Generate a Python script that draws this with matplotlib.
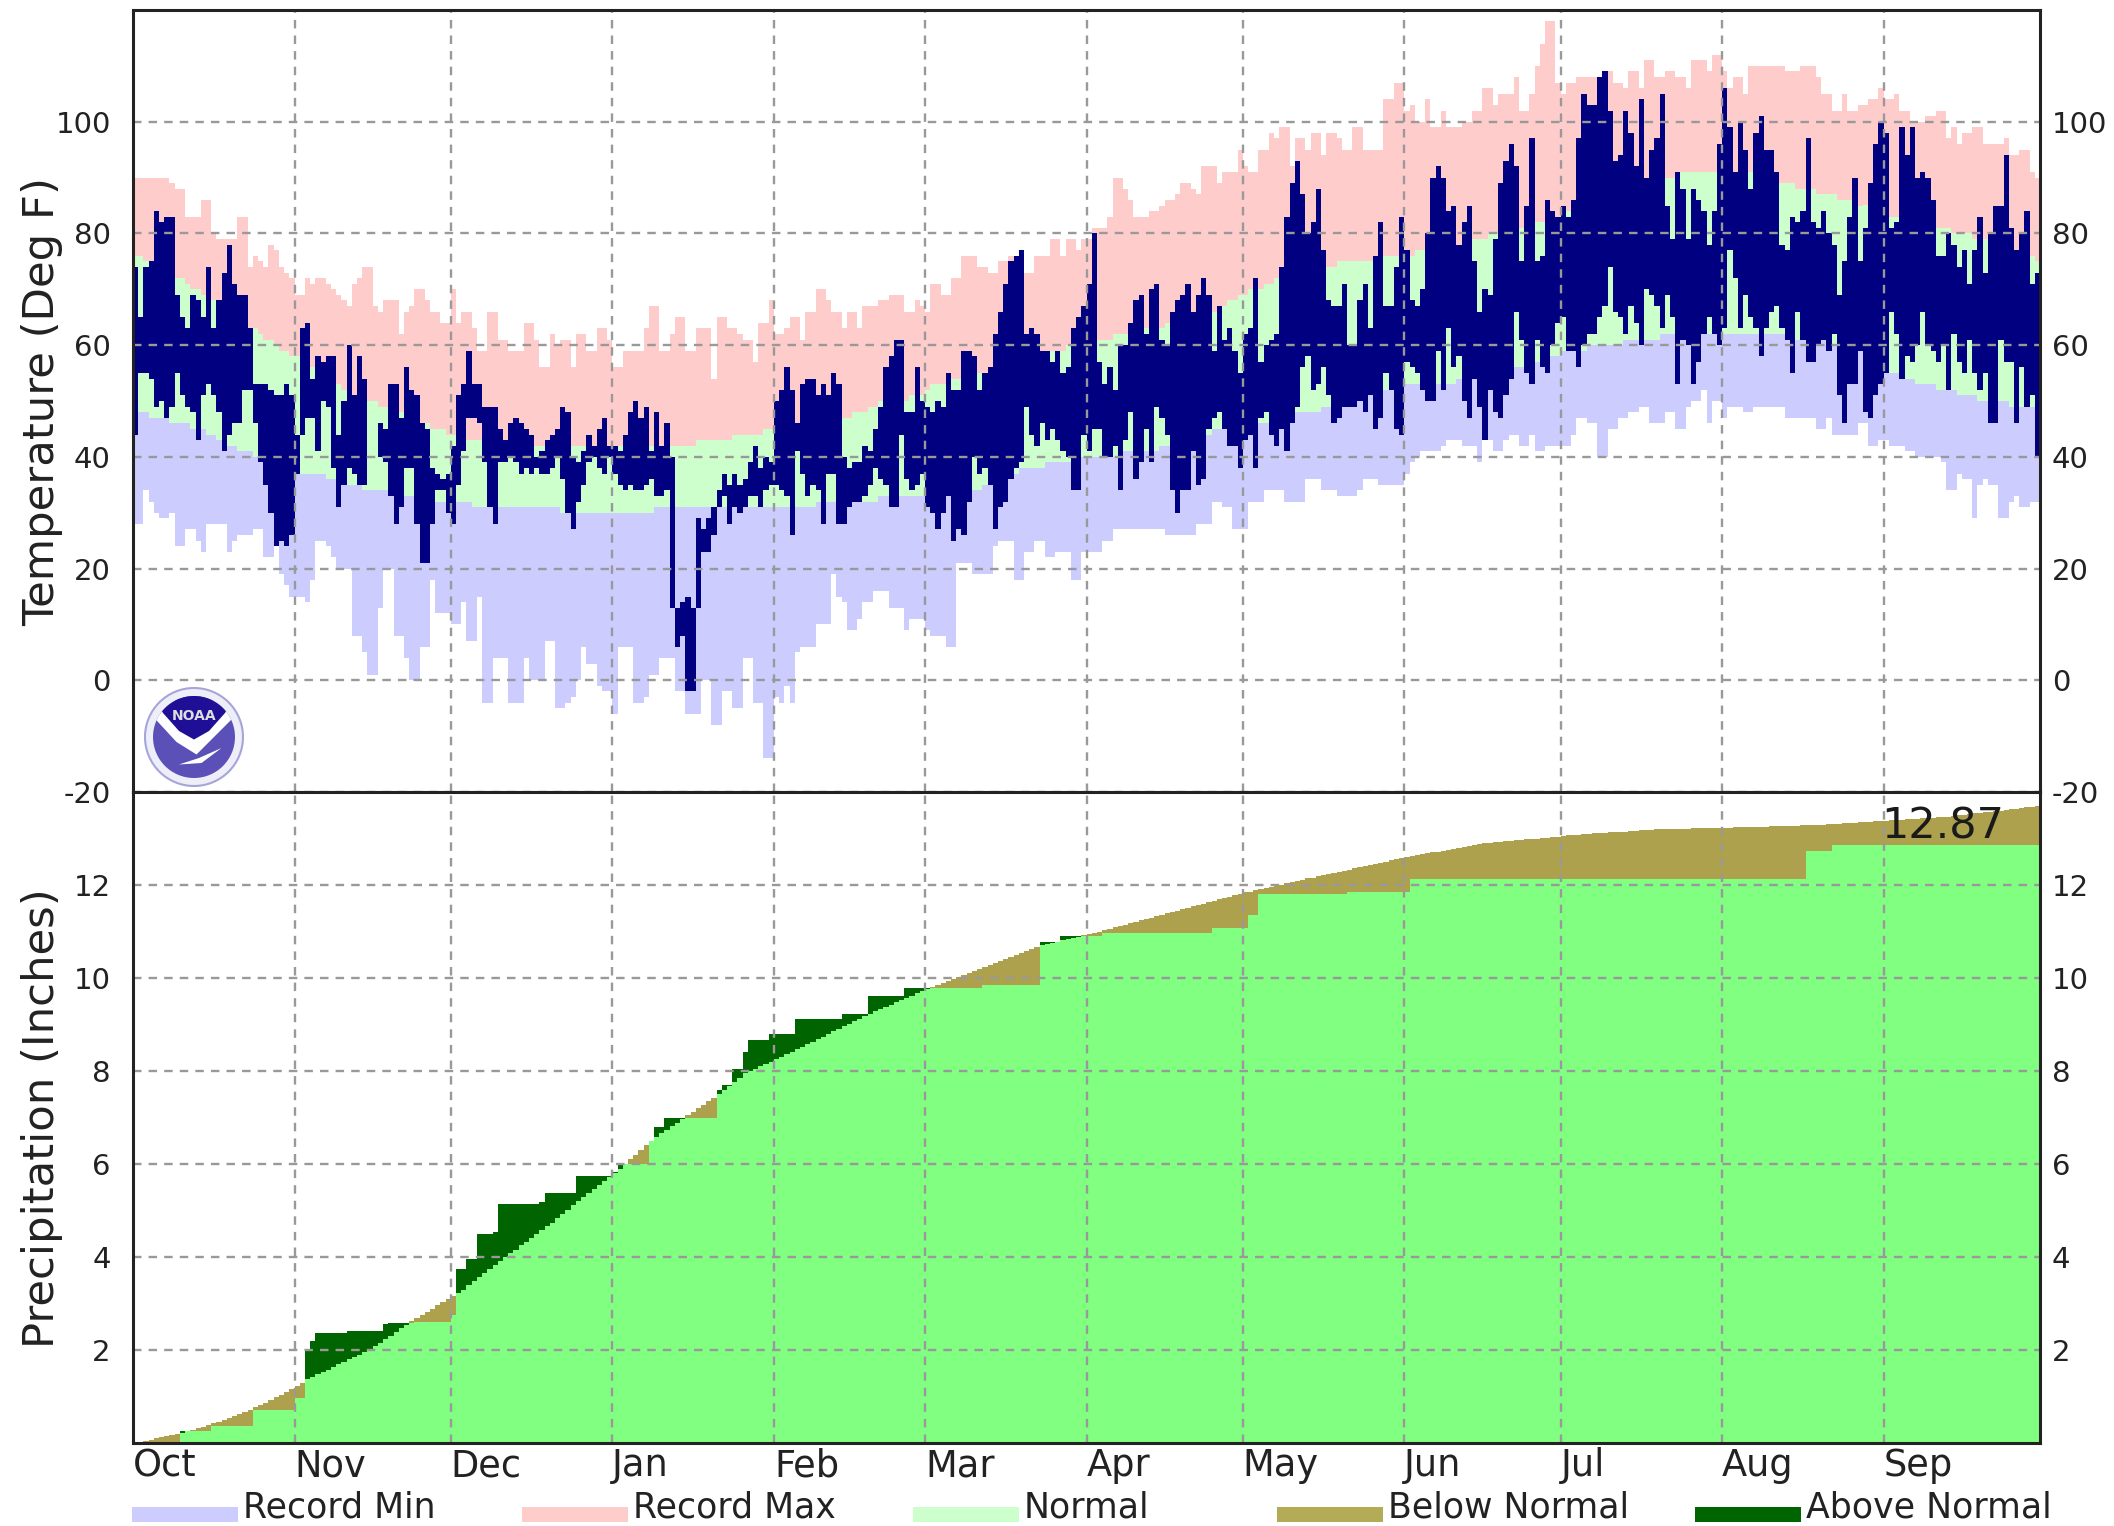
import numpy as np
import matplotlib
matplotlib.use("Agg")
import matplotlib.pyplot as plt
from matplotlib.patches import Rectangle, Circle, Polygon, PathPatch
from matplotlib.path import Path
from matplotlib.transforms import blended_transform_factory

nan = float('nan')
MONTHS = ['Oct','Nov','Dec','Jan','Feb','Mar','Apr','May','Jun','Jul','Aug','Sep']
MONTH_DAYS = [31,30,31,31,29,31,30,31,30,31,31,30]

obs_hi = [
 74,65,74,75,84,82,83,83,69,65,63,69,68,65,74,63,68,73,78,71,69,69,63,53,53,53,52,51,51,53,51,
 44,63,64,54,58,57,58,58,44,50,60,51,58,54,nan,nan,46,45,53,53,47,56,52,51,46,45,38,37,36,37,
 42,51,53,59,53,53,49,49,49,45,43,46,47,46,45,44,40,41,43,44,45,49,48,40,39,41,44,42,45,47,42,
 42,41,44,48,50,47,49,41,48,42,46,40,13,14,15,13,29,27,29,31,34,37,35,37,35,36,39,42,38,40,39,
 50,52,56,52,46,53,54,54,51,53,51,55,53,40,38,39,39,42,41,45,49,56,58,61,61,48,48,56,50,
 49,48,50,49,55,52,52,59,59,58,52,55,56,62,66,71,75,76,77,62,63,62,59,59,57,59,55,56,63,65,67,
 71,80,57,53,56,52,60,60,64,68,69,62,70,71,61,60,66,68,69,71,66,69,72,69,59,67,61,63,59,55,
 62,63,72,57,60,61,62,74,83,89,93,87,80,82,88,77,68,67,67,71,60,60,68,71,63,76,82,67,67,74,83,
 77,68,67,70,80,90,92,90,84,85,78,82,85,75,66,70,69,79,89,93,96,92,75,85,97,75,76,86,84,83,
 85,83,86,97,105,103,103,108,109,102,93,94,102,98,92,104,90,95,97,105,85,79,91,88,79,88,86,84,78,84,96,
 106,99,91,100,95,88,98,101,95,95,91,78,77,83,82,84,97,82,81,84,80,78,69,75,83,90,75,81,89,96,100,
 98,81,82,99,94,99,90,91,90,86,76,76,80,78,74,77,71,77,83,73,80,85,85,94,81,77,80,84,71,73]

obs_lo = [
 44,55,55,54,49,50,47,49,55,51,49,48,43,51,53,51,48,41,44,46,46,52,52,46,39,35,30,24,25,24,26,
 37,44,47,47,41,50,49,38,31,35,38,37,35,35,nan,nan,40,39,33,28,31,38,38,28,21,21,28,34,34,30,
 28,35,41,47,47,46,39,31,28,39,39,40,39,37,38,37,38,37,37,38,40,36,30,27,32,35,39,40,38,37,40,
 37,35,34,35,34,34,35,36,33,33,34,13,6,8,-2,-2,13,23,23,26,31,33,28,31,30,31,33,33,31,34,35,
 35,34,33,26,41,37,33,35,34,28,37,37,28,28,31,32,32,33,35,38,36,35,31,31,44,36,34,35,37,
 31,30,27,30,33,25,27,26,32,40,37,38,35,27,31,32,36,38,39,49,44,42,46,43,45,43,41,40,34,34,44,
 41,45,45,40,40,42,34,43,48,36,39,45,39,49,47,44,34,30,34,34,41,35,36,45,47,48,45,42,42,38,
 43,44,38,47,48,44,42,45,41,46,49,56,58,52,53,56,51,46,47,49,49,49,50,48,51,45,47,55,52,45,44,
 57,56,55,52,50,50,59,52,63,56,58,50,47,54,49,43,52,48,47,51,54,66,61,55,53,61,56,55,60,64,
 65,59,59,56,60,62,62,65,67,74,66,65,62,67,64,60,70,69,67,63,69,65,53,61,60,53,57,62,65,62,60,
 63,77,72,63,69,65,63,58,63,66,67,63,61,55,66,61,57,57,60,61,59,62,51,46,53,53,59,48,47,51,53,
 55,66,62,54,58,57,60,66,60,59,57,60,52,62,57,55,61,55,52,55,46,46,61,57,57,46,56,49,51,40]

record_max = [
 90,90,90,90,90,90,90,89,88,88,83,83,83,86,86,80,79,79,79,79,83,83,74,76,75,74,78,77,74,73,72,
 69,69,72,71,72,72,71,70,69,68,67,71,72,74,74,67,66,68,68,68,62,66,67,70,70,68,66,66,64,64,
 70,64,66,66,63,59,59,66,66,61,61,59,59,59,64,64,61,56,56,62,60,61,61,56,62,62,59,59,63,63,61,
 56,56,59,59,59,59,63,67,67,59,59,62,65,65,59,59,63,63,63,54,65,65,63,63,62,61,61,57,64,64,68,
 62,62,63,65,65,61,66,66,70,70,68,66,66,63,66,66,63,67,67,67,68,68,69,69,69,66,66,68,67,
 66,71,71,69,69,72,72,76,76,76,74,74,73,73,75,75,76,76,77,73,73,76,76,76,79,79,76,79,79,77,79,
 79,81,81,81,83,90,90,88,86,83,83,83,84,84,85,86,86,87,89,89,88,87,92,92,92,89,91,91,91,95,
 92,91,91,95,95,98,97,99,99,92,97,97,95,98,98,94,98,98,97,95,95,99,99,95,95,95,95,104,104,107,107,
 102,103,100,100,104,99,99,102,99,99,99,100,100,102,102,106,106,103,105,105,105,108,102,102,105,110,114,118,118,107,
 105,107,107,108,108,108,108,108,109,109,107,107,106,109,109,106,111,111,108,108,109,109,108,108,106,111,111,111,109,112,112,
 109,106,108,108,105,110,110,110,110,110,110,110,109,109,109,110,110,110,108,105,105,102,102,105,102,102,103,103,104,104,106,
 104,104,105,102,102,100,100,100,101,101,102,102,97,99,96,98,98,99,99,96,96,96,96,97,94,94,95,95,91,90]

record_min = [
 28,28,34,32,30,29,29,30,24,24,27,27,25,23,28,28,28,28,23,25,26,26,26,27,27,22,22,24,19,17,15,
 15,15,14,18,25,25,24,22,20,20,20,8,8,5,1,1,13,20,20,8,8,4,0,0,6,6,18,12,12,12,
 10,10,14,7,7,15,-4,-4,4,4,4,-4,-4,-4,4,0,0,0,7,7,-5,-5,-4,-3,0,6,3,3,-1,-2,-2,
 -6,6,6,6,-4,-4,-3,1,1,4,4,4,-2,-2,-6,-6,-6,0,0,-8,-8,-2,-2,-5,-5,4,4,-4,-4,-14,-14,
 -3,-4,-1,-4,5,6,6,6,10,10,10,19,15,14,9,9,11,14,14,16,16,16,13,13,13,9,11,11,11,
 9,8,8,8,6,6,21,21,21,19,19,19,19,24,25,25,25,18,18,23,23,25,25,22,22,23,23,23,18,18,23,
 23,23,23,25,25,27,27,27,27,27,27,27,27,27,27,26,26,26,26,26,26,28,28,28,32,32,31,31,27,27,
 27,32,32,32,34,34,34,34,32,32,32,32,36,36,36,34,34,34,33,33,33,33,34,36,36,36,35,35,35,35,35,
 37,39,40,41,41,41,41,42,43,43,43,42,42,42,39,43,43,41,41,43,44,44,42,42,44,41,41,42,42,42,
 42,42,44,47,47,46,46,40,40,45,45,47,47,48,48,49,49,46,46,46,48,48,45,45,49,50,50,52,46,50,50,
 47,49,49,49,48,48,49,49,49,49,49,49,47,47,47,47,47,47,45,45,47,44,44,44,44,44,46,46,42,42,43,
 43,42,42,42,41,41,40,40,40,40,40,39,34,34,37,36,36,29,35,36,35,35,29,29,32,33,31,31,32,32]

normal_hi = [
 76,76,75,75,74,74,73,73,72,72,71,70,70,69,69,68,67,67,66,65,65,64,63,63,62,61,61,60,59,59,58,
 58,57,56,56,55,54,54,53,53,52,52,51,51,50,50,50,49,49,49,48,48,47,47,47,46,46,45,45,45,44,
 44,44,44,43,43,43,43,43,43,42,42,42,42,42,42,42,42,42,42,42,42,42,42,42,42,42,42,42,42,42,42,
 42,42,42,42,42,42,42,42,42,42,42,42,42,42,42,42,43,43,43,43,43,43,43,44,44,44,44,44,44,45,45,
 45,45,45,45,45,46,46,46,46,46,47,47,47,47,47,48,48,48,49,49,50,50,50,50,50,50,51,51,51,
 52,53,53,53,53,54,54,54,55,55,55,55,56,56,56,57,57,57,57,58,58,58,58,59,59,59,59,60,60,60,60,
 61,61,61,61,61,62,62,62,62,62,62,63,63,63,63,64,64,64,64,65,65,65,66,66,66,67,67,68,68,69,
 69,70,70,70,71,71,72,72,72,72,73,73,73,73,74,74,74,74,75,75,75,75,75,75,75,76,76,76,76,76,76,
 76,76,77,77,77,77,77,78,78,78,78,79,79,79,79,79,80,80,80,80,81,81,81,82,82,82,82,82,83,83,
 83,84,84,85,85,85,86,86,86,87,87,87,88,88,88,89,89,89,90,90,90,90,91,91,91,91,91,91,91,91,91,
 91,91,91,91,91,91,90,90,90,90,89,89,89,89,88,88,88,88,87,87,87,87,86,86,86,86,85,85,85,85,84,
 84,83,83,83,83,82,82,82,81,81,81,81,81,80,80,80,80,79,79,79,79,78,78,78,77,77,77,76,76,75]

normal_lo = [
 48,48,48,47,47,47,47,46,46,46,46,45,45,45,44,44,43,43,42,42,41,41,41,40,40,40,39,39,38,38,37,
 37,37,37,37,37,37,36,36,36,35,35,35,35,34,34,34,34,34,34,33,33,33,33,33,33,33,32,32,32,32,
 32,32,32,32,31,31,31,31,31,31,31,31,31,31,31,31,31,31,31,31,31,30,30,30,30,30,30,30,30,30,30,
 30,30,30,30,30,30,30,30,31,31,31,31,31,31,31,31,31,31,31,31,31,31,31,31,31,31,31,31,31,31,31,
 31,31,31,31,31,31,31,31,32,32,32,32,32,32,32,32,32,32,32,32,33,33,33,33,33,33,33,33,33,
 33,33,33,33,34,34,34,34,34,34,34,35,35,36,36,37,37,37,38,38,38,38,38,39,39,39,39,39,39,40,40,
 40,40,40,40,40,40,41,41,41,41,41,41,41,41,42,42,42,42,43,43,43,44,44,44,45,45,45,45,45,46,
 46,46,46,46,46,47,47,47,47,47,48,48,48,48,48,49,49,49,49,50,50,50,50,50,51,51,51,52,52,52,52,
 53,53,53,53,53,53,53,53,53,53,54,54,54,54,54,55,55,55,55,55,56,56,56,56,56,57,57,57,58,58,
 59,59,59,59,59,60,60,60,60,60,60,60,61,61,61,61,61,61,61,62,62,62,62,62,62,62,62,62,62,62,62,
 62,62,62,62,62,62,62,62,62,62,62,62,62,62,61,61,61,61,61,61,60,60,60,60,60,59,59,58,58,57,57,
 56,55,55,54,54,54,53,53,53,53,52,52,52,52,51,51,51,51,50,50,50,50,50,50,49,49,49,49,49,49]

precip_normal = [
 0.00,0.02,0.05,0.07,0.10,0.12,0.15,0.17,0.20,0.22,0.25,0.28,0.32,0.35,0.39,0.43,0.46,0.50,0.54,0.58,0.62,0.67,0.72,0.77,0.82,0.87,0.92,0.98,1.04,1.10,1.16,
 1.22,1.30,1.37,1.42,1.48,1.53,1.58,1.64,1.69,1.74,1.80,1.85,1.90,1.96,2.01,2.09,2.16,2.24,2.31,2.39,2.47,2.54,2.62,2.69,2.76,2.82,2.89,2.96,3.03,3.10,
 3.17,3.23,3.30,3.39,3.48,3.56,3.65,3.74,3.83,3.91,4.00,4.08,4.16,4.25,4.33,4.41,4.49,4.57,4.66,4.74,4.83,4.92,5.02,5.11,5.20,5.29,5.37,5.46,5.54,5.63,5.71,
 5.80,5.90,6.00,6.10,6.20,6.30,6.40,6.50,6.58,6.66,6.74,6.81,6.89,6.97,7.05,7.12,7.20,7.27,7.35,7.42,7.50,7.59,7.68,7.77,7.86,7.95,8.00,8.05,8.10,8.15,8.20,
 8.25,8.31,8.36,8.41,8.47,8.52,8.57,8.63,8.68,8.74,8.79,8.85,8.90,8.96,9.01,9.07,9.12,9.18,9.23,9.28,9.33,9.38,9.43,9.48,9.52,9.57,9.62,9.67,9.72,
 9.77,9.81,9.85,9.90,9.94,9.98,10.02,10.07,10.11,10.15,10.19,10.24,10.28,10.32,10.36,10.41,10.45,10.49,10.53,10.58,10.62,10.66,10.70,10.73,10.76,10.78,10.81,10.84,10.86,10.89,10.92,
 10.94,10.97,11.00,11.03,11.06,11.09,11.12,11.15,11.18,11.21,11.24,11.27,11.30,11.33,11.36,11.39,11.42,11.45,11.48,11.51,11.54,11.57,11.60,11.63,11.66,11.69,11.72,11.75,11.78,11.81,
 11.84,11.86,11.89,11.91,11.94,11.96,11.99,12.01,12.04,12.06,12.09,12.11,12.14,12.16,12.19,12.21,12.23,12.26,12.28,12.31,12.33,12.36,12.38,12.41,12.43,12.46,12.48,12.50,12.53,12.55,12.58,
 12.60,12.62,12.64,12.66,12.68,12.70,12.72,12.74,12.76,12.78,12.80,12.82,12.84,12.86,12.88,12.90,12.91,12.92,12.93,12.94,12.95,12.96,12.97,12.98,12.99,13.00,13.01,13.02,13.03,13.04,
 13.06,13.07,13.07,13.08,13.09,13.10,13.11,13.11,13.12,13.13,13.14,13.15,13.15,13.16,13.17,13.18,13.19,13.19,13.20,13.20,13.20,13.21,13.21,13.21,13.21,13.22,13.22,13.22,13.22,13.22,13.23,
 13.23,13.23,13.24,13.24,13.24,13.25,13.25,13.25,13.25,13.26,13.26,13.26,13.27,13.27,13.27,13.28,13.29,13.29,13.30,13.30,13.31,13.32,13.32,13.33,13.34,13.34,13.35,13.36,13.36,13.37,13.37,
 13.38,13.39,13.40,13.40,13.41,13.42,13.43,13.44,13.44,13.45,13.46,13.46,13.47,13.48,13.50,13.51,13.52,13.54,13.55,13.56,13.58,13.59,13.60,13.62,13.63,13.64,13.66,13.67,13.68,13.70]

precip_obs = (
 [0.02]*9 + [0.25]*6 + [0.36]*8 + [0.70]*8 +
 [0.97]*2 + [2.01, 2.20] + [2.37]*6 + [2.41]*7 + [2.55] + [2.59]*5 + [2.60]*7 +
 [2.75] + [3.74]*2 + [3.95]*2 + [4.49]*3 + [4.53] + [5.15]*8 + [5.19] + [5.37]*6 + [5.75]*7 +
 [5.82] + [6.00]*6 + [6.50] + [6.79]*2 + [6.99]*4 + [7.00]*6 + [7.60] + [7.70]*2 + [8.05]*2 + [8.40] + [8.66]*4 + [8.79] +
 [8.79]*4 + [9.12]*9 + [9.23]*5 + [9.61]*7 + [9.79]*4 +
 [9.79]*11 + [9.85]*11 + [10.78]*4 + [10.90]*5 +
 [10.90]*3 + [10.96]*21 + [11.07]*6 +
 [11.07] + [11.35]*2 + [11.80]*17 + [11.86]*11 +
 [11.86] + [12.12]*29 +
 [12.12]*31 +
 [12.12]*16 + [12.74]*5 + [12.87]*10 +
 [12.87]*30)

precip_total_label = '12.87'
temp_ticks = [-20, 0, 20, 40, 60, 80, 100]
temp_tick_labels = ['-20', '0', '20', '40', '60', '80', '100']
precip_ticks = [2, 4, 6, 8, 10, 12]
precip_tick_labels = ['2', '4', '6', '8', '10', '12']
legend_labels = ['Record Min', 'Record Max', 'Normal', 'Below Normal', 'Above Normal']

C_MIN, C_MAX, C_NORM = '#ccccff', '#ffcccc', '#ccffcc'
C_OBS = '#000080'
C_PLIGHT, C_BELOW, C_ABOVE = '#80ff80', '#ada14d', '#006400'
C_GRID, C_FRAME, C_TEXT = '#999999', '#222222', '#222222'
FS_TICK, FS_MONTH, FS_LAB, FS_LEG = 21, 26.5, 31.2, 25

W, H = 2114, 1526
L, R, T0, T1, B1 = 133, 2040, 10, 792, 1443
plt.rcParams['font.family'] = 'DejaVu Sans'
fig = plt.figure(figsize=(W/100, H/100), dpi=100, facecolor='white')

def axbox(top, bottom):
    return [L/W, 1-bottom/H, (R-L)/W, (bottom-top)/H]

ax1 = fig.add_axes(axbox(T0, T1))
ax2 = fig.add_axes(axbox(T1, B1))

n = len(obs_hi)
x = np.arange(n)
hi, lo = np.array(obs_hi, float), np.array(obs_lo, float)
rmax, rmin = np.array(record_max, float), np.array(record_min, float)
nhi, nlo = np.array(normal_hi, float), np.array(normal_lo, float)
pn, po = np.array(precip_normal), np.array(precip_obs)

def bars(ax, base, top, color, z=1):
    ax.bar(x, top-base, bottom=base, width=1.0, align='edge', color=color, linewidth=0, zorder=z)

bars(ax1, nhi, rmax, C_MAX)
bars(ax1, nlo, nhi, C_NORM)
bars(ax1, rmin, nlo, C_MIN)
ok = ~np.isnan(hi)
ax1.bar(x[ok], (hi-lo)[ok], bottom=lo[ok], width=1.0, align='edge', color=C_OBS, linewidth=0, zorder=2)

base = np.minimum(pn, po)
bars(ax2, np.zeros(n), base, C_PLIGHT)
bars(ax2, po, np.maximum(pn, po), C_BELOW)
bars(ax2, pn, np.maximum(pn, po), C_ABOVE)

month_starts = np.cumsum([0] + MONTH_DAYS[:-1])
for ax, ylim, yticks, ylabels in [(ax1, (-20, 120), temp_ticks, temp_tick_labels),
                                  (ax2, (0, 14), precip_ticks, precip_tick_labels)]:
    ax.set_xlim(0, n)
    ax.set_ylim(*ylim)
    ax.set_xticks(month_starts)
    ax.set_yticks(yticks)
    ax.set_yticklabels(ylabels)
    ax.set_axisbelow(False)
    ax.grid(True, color=C_GRID, linewidth=1.7, linestyle=(0, (3.6, 3.0)), zorder=3)
    ax.tick_params(length=0, labelsize=FS_TICK, labelcolor=C_TEXT, pad=16)
    for s in ax.spines.values():
        s.set_color(C_FRAME)
        s.set_linewidth(2.2)
        s.set_zorder(5)
    # right-hand tick labels sit closer to the frame than the left-hand ones
    tr = blended_transform_factory(ax.transAxes, ax.transData)
    for v, s in zip(yticks, ylabels):
        ax.text(1 + 12/(R-L), v, s, transform=tr, fontsize=FS_TICK, color=C_TEXT,
                ha='left', va='center_baseline', clip_on=False)
ax1.set_xticklabels([])
ax2.set_xticklabels(MONTHS, fontsize=FS_MONTH, color=C_TEXT, ha='left')
ax2.tick_params(axis='x', pad=3)

ax2.text(month_starts[11] - 0.5, 13.26, precip_total_label, fontsize=31, color='#1a1a1a',
         ha='left', va='center', zorder=6)

fig.text(42/W, 1-401/H, 'Temperature (Deg F)', rotation=90, fontsize=FS_LAB, color=C_TEXT, ha='center', va='center')
fig.text(42/W, 1-1118/H, 'Precipitation (Inches)', rotation=90, fontsize=FS_LAB, color=C_TEXT, ha='center', va='center')

# legend
swatches = [(132, C_MIN), (522, C_MAX), (913, C_NORM), (1277, '#b3ab55'), (1695, C_ABOVE)]
for (sx, col), lab in zip(swatches, legend_labels):
    fig.add_artist(Rectangle((sx/W, 1-1522/H), 106/W, 15/H, transform=fig.transFigure, facecolor=col, edgecolor='none'))
    fig.text((sx+111)/W, 1-1508/H, lab, fontsize=FS_LEG, color=C_TEXT, ha='left', va='center')

# NOAA emblem
cx, cy, rr = 194, 737, 50
lg = fig.add_axes([(cx-rr)/W, 1-(cy+rr)/H, 2*rr/W, 2*rr/H], facecolor='none', zorder=6)
lg.set_xlim(-1, 1); lg.set_ylim(-1, 1); lg.axis('off')
lg.add_patch(Circle((0, 0), 0.98, fc='#eeeef8', ec='#a5a5da', lw=1.5))
inner = Circle((0, 0), 0.82, fc='#5b50b8', ec='none')
lg.add_patch(inner)
white = Polygon([(-0.95, 0.55), (-0.55, 0.72), (0.55, 0.72), (0.95, 0.55), (0.45, 0.05), (0.05, -0.35),
                 (-0.35, -0.1)], fc='white', ec='none')
lg.add_patch(white); white.set_clip_path(inner)
navy = PathPatch(Path([(-0.9, 0.95), (0.9, 0.95), (0.62, 0.48), (0.3, 0.12), (0.0, -0.05), (-0.3, 0.12), (-0.62, 0.48), (-0.9, 0.95)],
                      closed=True), fc='#1f0f96', ec='none')
lg.add_patch(navy); navy.set_clip_path(inner)
swoosh = Polygon([(-0.3, -0.55), (0.1, -0.42), (0.55, -0.22), (0.15, -0.52)], fc='white', ec='none')
lg.add_patch(swoosh)
lg.text(0, 0.42, 'NOAA', color='#dddddd', fontsize=10, fontweight='bold', ha='center', va='center')

fig.savefig('out.png', dpi=100, facecolor='white')
